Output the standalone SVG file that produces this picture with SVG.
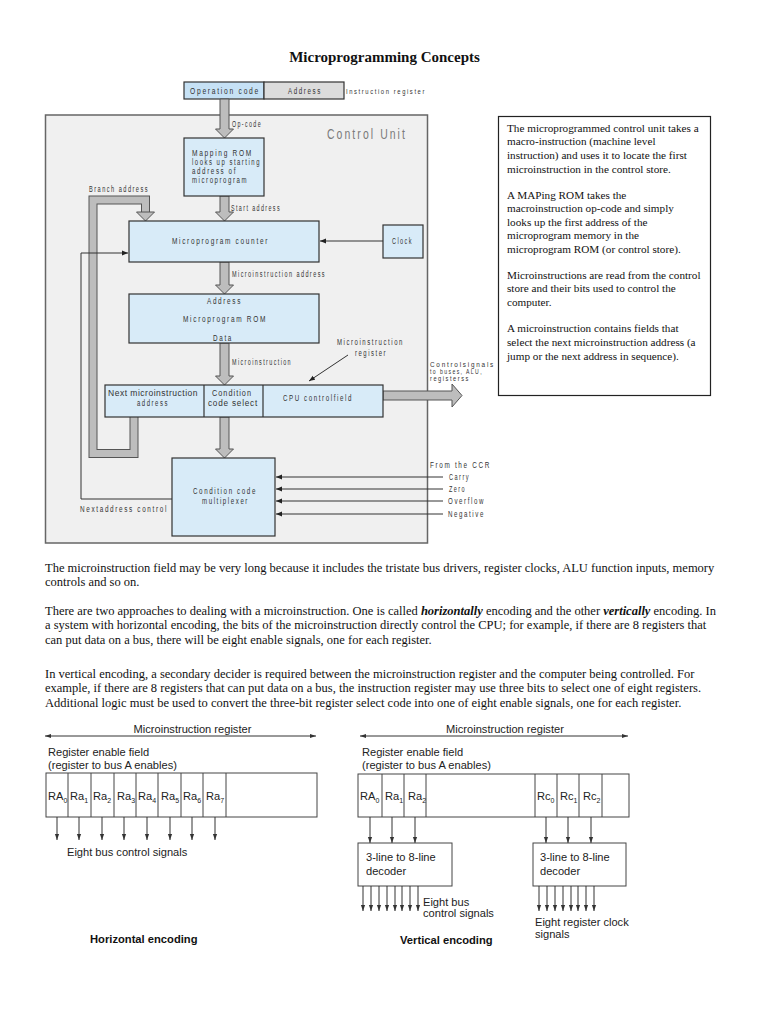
<svg xmlns="http://www.w3.org/2000/svg" width="768" height="1024" viewBox="0 0 768 1024">
<defs>
<marker id="ah" viewBox="0 0 10 10" refX="10" refY="5" markerWidth="6" markerHeight="6" orient="auto-start-reverse" markerUnits="userSpaceOnUse"><path d="M0,1 L10,5 L0,9 z" fill="#222"/></marker>
<marker id="as" viewBox="0 0 10 10" refX="10" refY="5" markerWidth="6" markerHeight="6" orient="auto-start-reverse" markerUnits="userSpaceOnUse"><path d="M0,1.5 L10,5 L0,8.5 z" fill="#333"/></marker>
<style>
.cu{fill:#f0f0f0;stroke:#666;stroke-width:1.5}
.bx{fill:#d8ebf8;stroke:#333;stroke-width:1.2}
.ga{fill:#bdbdbd;stroke:#555;stroke-width:1}
.t{font-family:"Liberation Sans",Arial,sans-serif;font-size:8.5px;letter-spacing:2.2px;fill:#333}
.ts{font-size:8px}
.tm{text-anchor:middle}
.ln{stroke:#333;stroke-width:1;fill:none}
.ser{font-family:"Liberation Serif","Times New Roman",serif;font-size:12.5px;fill:#111}
.bt{font-family:"Liberation Serif","Times New Roman",serif;font-size:11.2px;fill:#111}
.ar{font-family:"Liberation Sans",Arial,sans-serif;font-size:11.1px;fill:#222}
.arb{font-family:"Liberation Sans",Arial,sans-serif;font-size:11.2px;font-weight:bold;fill:#111}
.cell{fill:#fff;stroke:#444;stroke-width:1}
.sa{stroke:#333;stroke-width:1;fill:none;marker-end:url(#as)}
</style>
</defs>
<rect width="768" height="1024" fill="#fff"/>
<text x="384.5" y="62" text-anchor="middle" font-family="'Liberation Serif','Times New Roman',serif" font-size="15" font-weight="bold" fill="#111">Microprogramming Concepts</text>

<g id="control-unit">
<rect class="cu" x="45.5" y="115" width="382" height="428"/>
<text x="327" y="139" font-family="'Liberation Sans',Arial,sans-serif" font-size="15" letter-spacing="3" fill="#7a7a7a" textLength="80" lengthAdjust="spacingAndGlyphs">Control Unit</text>
</g>

<g id="instruction-register">
<rect x="184" y="82" width="80" height="17" fill="#c6e1f5" stroke="#333" stroke-width="1.2"/>
<rect x="264" y="82" width="80" height="17" fill="#dcdcdc" stroke="#333" stroke-width="1.2"/>
<text class="t tm" x="225" y="94" textLength="70" lengthAdjust="spacingAndGlyphs">Operation code</text>
<text class="t tm" x="305" y="94" textLength="34" lengthAdjust="spacingAndGlyphs">Address</text>
<text class="t ts" x="346" y="93.5" textLength="80" lengthAdjust="spacingAndGlyphs">Instruction register</text>
</g>

<g id="connectors">
<polygon class="ga" points="220,99 229,99 229,129 233.5,129 224.5,138 215.5,129 220,129"/>
<polygon class="ga" points="220,196 229,196 229,212 233.5,212 224.5,221 215.5,212 220,212"/>
<polygon class="ga" points="220,262 229,262 229,285 233.5,285 224.5,294 215.5,285 220,285"/>
<polygon class="ga" points="220,343 229,343 229,376 233.5,376 224.5,385 215.5,376 220,376"/>
<polygon class="ga" points="220,417 229,417 229,449 233.5,449 224.5,458 215.5,449 220,449"/>
<polygon class="ga" points="383,391 452,391 452,384 462,395.5 452,407 452,400 383,400"/>
<path d="M134,417 V453.5 H93 V200 H145.5 V212.5" fill="none" stroke="#555" stroke-width="9" stroke-linejoin="miter"/>
<path d="M134,417 V453.5 H93 V200 H145.5 V212.5" fill="none" stroke="#bdbdbd" stroke-width="7" stroke-linejoin="miter"/>
<polygon class="ga" points="136.5,212 154.5,212 145.5,221"/>
<polyline class="ln" points="172,499 81,499 81,253 128,253" marker-end="url(#ah)"/>
<line class="ln" x1="383" y1="241" x2="320" y2="241" marker-end="url(#ah)"/>
<line class="ln" x1="348" y1="355" x2="309" y2="381" marker-end="url(#ah)"/>
<line class="ln" x1="443" y1="477" x2="276" y2="477" marker-end="url(#ah)"/>
<line class="ln" x1="443" y1="489" x2="276" y2="489" stroke-width="1.6" marker-end="url(#ah)"/>
<line class="ln" x1="443" y1="501" x2="276" y2="501" marker-end="url(#ah)"/>
<line class="ln" x1="443" y1="514" x2="276" y2="514" marker-end="url(#ah)"/>
<text class="t" x="232" y="126.5" textLength="30" lengthAdjust="spacingAndGlyphs">Op-code</text>
<text class="t" x="231" y="210.5" textLength="50" lengthAdjust="spacingAndGlyphs">Start address</text>
<text class="t" x="89" y="192" textLength="60" lengthAdjust="spacingAndGlyphs">Branch address</text>
<text class="t" x="232" y="277" textLength="94" lengthAdjust="spacingAndGlyphs">Microinstruction address</text>
<text class="t" x="232" y="365" textLength="60" lengthAdjust="spacingAndGlyphs">Microinstruction</text>
<text class="t" x="337" y="345" textLength="67" lengthAdjust="spacingAndGlyphs">Microinstruction</text>
<text class="t" x="355" y="356" textLength="32" lengthAdjust="spacingAndGlyphs">register</text>
<text class="t ts" x="430" y="367" textLength="65" lengthAdjust="spacingAndGlyphs">Controlsignals</text>
<text class="t ts" x="430" y="374" textLength="53" lengthAdjust="spacingAndGlyphs">to buses, ALU,</text>
<text class="t ts" x="430" y="381" textLength="40" lengthAdjust="spacingAndGlyphs">registerss</text>
<text class="t" x="430" y="468" textLength="61" lengthAdjust="spacingAndGlyphs">From the CCR</text>
<text class="t" x="449" y="480" textLength="21" lengthAdjust="spacingAndGlyphs">Carry</text>
<text class="t" x="449" y="492" textLength="17" lengthAdjust="spacingAndGlyphs">Zero</text>
<text class="t" x="448" y="504" textLength="37" lengthAdjust="spacingAndGlyphs">Overflow</text>
<text class="t" x="448" y="517" textLength="37" lengthAdjust="spacingAndGlyphs">Negative</text>
<text class="t" x="80" y="511.5" textLength="88" lengthAdjust="spacingAndGlyphs">Nextaddress control</text>
</g>

<g id="mapping-rom">
<rect class="bx" x="184" y="138" width="80" height="58"/>
<text class="t" x="192" y="155.5" textLength="61" lengthAdjust="spacingAndGlyphs">Mapping ROM</text>
<text class="t" x="192" y="164.5" textLength="69" lengthAdjust="spacingAndGlyphs">looks up starting</text>
<text class="t" x="192" y="173.5" textLength="45" lengthAdjust="spacingAndGlyphs">address of</text>
<text class="t" x="192" y="182.5" textLength="56" lengthAdjust="spacingAndGlyphs">microprogram</text>
</g>

<g id="microprogram-counter">
<rect class="bx" x="129" y="221" width="190" height="41"/>
<text class="t tm" x="220.5" y="244" textLength="97" lengthAdjust="spacingAndGlyphs">Microprogram counter</text>
</g>

<g id="clock">
<rect class="bx" x="383" y="225" width="40" height="33"/>
<text class="t tm" x="402.5" y="244" textLength="21" lengthAdjust="spacingAndGlyphs">Clock</text>
</g>

<g id="microprogram-rom">
<rect class="bx" x="129" y="294" width="190" height="49"/>
<text class="t tm" x="224.5" y="304" textLength="35" lengthAdjust="spacingAndGlyphs">Address</text>
<text class="t tm" x="225" y="322" textLength="84" lengthAdjust="spacingAndGlyphs">Microprogram ROM</text>
<text class="t tm" x="223" y="341" textLength="20" lengthAdjust="spacingAndGlyphs">Data</text>
</g>

<g id="microinstruction-register">
<rect class="bx" x="105" y="385" width="278" height="32"/>
<line x1="204" y1="385" x2="204" y2="417" stroke="#333" stroke-width="1.2"/>
<line x1="263" y1="385" x2="263" y2="417" stroke="#333" stroke-width="1.2"/>
<text class="t tm" x="153" y="395.5" style="letter-spacing:0.5px" textLength="90" lengthAdjust="spacingAndGlyphs">Next microinstruction</text>
<text class="t tm" x="153" y="405.5" textLength="32" lengthAdjust="spacingAndGlyphs">address</text>
<text class="t tm" x="232" y="395.5" style="letter-spacing:1.2px" textLength="40" lengthAdjust="spacingAndGlyphs">Condition</text>
<text class="t tm" x="233" y="405.5" style="letter-spacing:0.8px" textLength="50" lengthAdjust="spacingAndGlyphs">code select</text>
<text class="t tm" x="318" y="401" textLength="70" lengthAdjust="spacingAndGlyphs">CPU controlfield</text>
</g>

<g id="condition-code-multiplexer">
<rect class="bx" x="172" y="458" width="103" height="78"/>
<text class="t tm" x="225" y="494" textLength="64" lengthAdjust="spacingAndGlyphs">Condition code</text>
<text class="t tm" x="225.5" y="504" textLength="47" lengthAdjust="spacingAndGlyphs">multiplexer</text>
</g>

<g id="note">
<rect x="498.5" y="116.5" width="212" height="279" fill="#fff" stroke="#222" stroke-width="1.2"/>
<text class="bt" x="507" y="131.5">The microprogrammed control unit takes a</text>
<text class="bt" x="507" y="145">macro-instruction (machine level</text>
<text class="bt" x="507" y="159">instruction) and uses it to locate the first</text>
<text class="bt" x="507" y="172.5">microinstruction in the control store.</text>
<text class="bt" x="507" y="198.5">A MAPing ROM takes the</text>
<text class="bt" x="507" y="212">macroinstruction op-code and simply</text>
<text class="bt" x="507" y="225.5">looks up the first address of the</text>
<text class="bt" x="507" y="239">microprogram memory in the</text>
<text class="bt" x="507" y="252.5">microprogram ROM (or control store).</text>
<text class="bt" x="507" y="278.5">Microinstructions are read from the control</text>
<text class="bt" x="507" y="292">store and their bits used to control the</text>
<text class="bt" x="507" y="306">computer.</text>
<text class="bt" x="507" y="332">A microinstruction contains fields that</text>
<text class="bt" x="507" y="345.5">select the next microinstruction address (a</text>
<text class="bt" x="507" y="359.5">jump or the next address in sequence).</text>
</g>

<g id="paragraphs">
<text class="ser" x="45" y="572">The microinstruction field may be very long because it includes the tristate bus drivers, register clocks, ALU function inputs, memory</text>
<text class="ser" x="45" y="586">controls and so on.</text>
<text class="ser" x="45" y="615">There are two approaches to dealing with a microinstruction. One is called <tspan font-weight="bold" font-style="italic">horizontally</tspan> encoding and the other <tspan font-weight="bold" font-style="italic">vertically</tspan> encoding. In</text>
<text class="ser" x="45" y="629">a system with horizontal encoding, the bits of the microinstruction directly control the CPU; for example, if there are 8 registers that</text>
<text class="ser" x="45" y="644">can put data on a bus, there will be eight enable signals, one for each register.</text>
<text class="ser" x="45" y="678">In vertical encoding, a secondary decider is required between the microinstruction register and the computer being controlled. For</text>
<text class="ser" x="45" y="692">example, if there are 8 registers that can put data on a bus, the instruction register may use three bits to select one of eight registers.</text>
<text class="ser" x="45" y="707">Additional logic must be used to convert the three-bit register select code into one of eight enable signals, one for each register.</text>
</g>

<g id="horizontal-encoding">
<text class="ar" x="192.5" y="733" text-anchor="middle">Microinstruction register</text>
<line class="ln" x1="45" y1="736" x2="316" y2="736" marker-start="url(#as)" marker-end="url(#as)"/>
<text class="ar" x="48" y="756">Register enable field</text>
<text class="ar" x="48" y="768.5">(register to bus A enables)</text>
<rect class="cell" x="46" y="773" width="271" height="44"/>
<path d="M68,773V817M91,773V817M114,773V817M136,773V817M158,773V817M181,773V817M203,773V817M226,773V817" stroke="#444" stroke-width="1"/>
<text class="ar" x="48" y="800">RA<tspan dy="2.5" font-size="7">0</tspan></text>
<text class="ar" x="70" y="800">Ra<tspan dy="2.5" font-size="7">1</tspan></text>
<text class="ar" x="93" y="800">Ra<tspan dy="2.5" font-size="7">2</tspan></text>
<text class="ar" x="117" y="800">Ra<tspan dy="2.5" font-size="7">3</tspan></text>
<text class="ar" x="138" y="800">Ra<tspan dy="2.5" font-size="7">4</tspan></text>
<text class="ar" x="161" y="800">Ra<tspan dy="2.5" font-size="7">5</tspan></text>
<text class="ar" x="183" y="800">Ra<tspan dy="2.5" font-size="7">6</tspan></text>
<text class="ar" x="206" y="800">Ra<tspan dy="2.5" font-size="7">7</tspan></text>
<path class="sa" d="M57,817V840"/><path class="sa" d="M79,817V840"/><path class="sa" d="M102,817V840"/><path class="sa" d="M124,817V840"/>
<path class="sa" d="M147,817V840"/><path class="sa" d="M170,817V840"/><path class="sa" d="M192,817V840"/><path class="sa" d="M215,817V840"/>
<text class="ar" x="67" y="856">Eight bus control signals</text>
<text class="arb" x="90" y="943">Horizontal encoding</text>
</g>

<g id="vertical-encoding">
<text class="ar" x="505" y="733" text-anchor="middle">Microinstruction register</text>
<line class="ln" x1="360" y1="736" x2="628" y2="736" marker-start="url(#as)" marker-end="url(#as)"/>
<text class="ar" x="362" y="756">Register enable field</text>
<text class="ar" x="362" y="768.5">(register to bus A enables)</text>
<rect class="cell" x="358" y="774" width="271" height="43"/>
<path d="M382,774V817M404,774V817M426,774V817M535,774V817M557,774V817M579,774V817M602,774V817" stroke="#444" stroke-width="1"/>
<text class="ar" x="360" y="800">RA<tspan dy="2.5" font-size="7">0</tspan></text>
<text class="ar" x="385" y="800">Ra<tspan dy="2.5" font-size="7">1</tspan></text>
<text class="ar" x="408" y="800">Ra<tspan dy="2.5" font-size="7">2</tspan></text>
<text class="ar" x="537" y="800">Rc<tspan dy="2.5" font-size="7">0</tspan></text>
<text class="ar" x="560" y="800">Rc<tspan dy="2.5" font-size="7">1</tspan></text>
<text class="ar" x="583" y="800">Rc<tspan dy="2.5" font-size="7">2</tspan></text>
<path class="sa" d="M370,817V843"/><path class="sa" d="M392,817V843"/><path class="sa" d="M415,817V843"/>
<path class="sa" d="M546,817V843"/><path class="sa" d="M568,817V843"/><path class="sa" d="M591,817V843"/>
<rect class="cell" x="358" y="843" width="94" height="43"/>
<rect class="cell" x="533" y="843" width="93" height="43"/>
<text class="ar" x="366" y="861">3-line to 8-line</text>
<text class="ar" x="366" y="875">decoder</text>
<text class="ar" x="540" y="861">3-line to 8-line</text>
<text class="ar" x="540" y="875">decoder</text>
<path class="sa" d="M363,886V911"/><path class="sa" d="M371,886V911"/><path class="sa" d="M379,886V911"/><path class="sa" d="M387,886V911"/>
<path class="sa" d="M395,886V911"/><path class="sa" d="M402,886V911"/><path class="sa" d="M410,886V911"/><path class="sa" d="M418,886V911"/>
<path class="sa" d="M539,886V911"/><path class="sa" d="M547,886V911"/><path class="sa" d="M555,886V911"/><path class="sa" d="M563,886V911"/>
<path class="sa" d="M571,886V911"/><path class="sa" d="M578,886V911"/><path class="sa" d="M586,886V911"/><path class="sa" d="M594,886V911"/>
<text class="ar" x="423" y="905.5">Eight bus</text>
<text class="ar" x="423" y="917">control signals</text>
<text class="ar" x="535" y="926">Eight register clock</text>
<text class="ar" x="535" y="937.5">signals</text>
<text class="arb" x="400" y="944">Vertical encoding</text>
</g>
</svg>
